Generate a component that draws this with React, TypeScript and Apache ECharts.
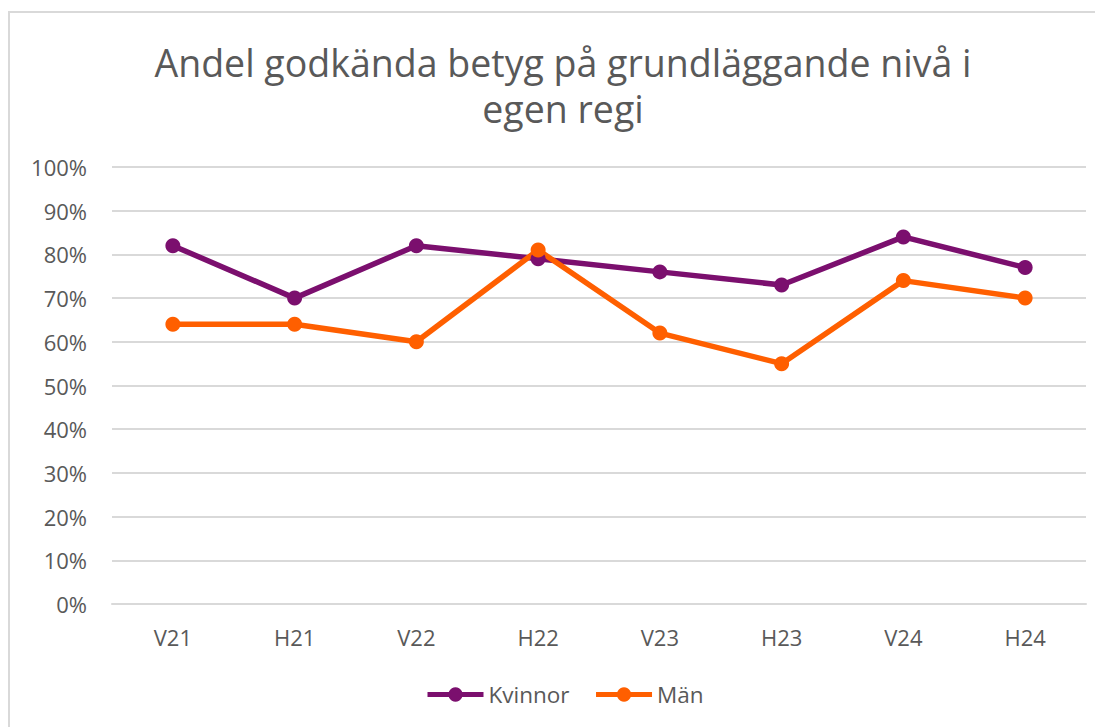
import React, { useEffect, useRef } from "react";
import * as echarts from "echarts";

const categories = ["V21", "H21", "V22", "H22", "V23", "H23", "V24", "H24"];
const kvinnor = [82, 70, 82, 79, 76, 73, 84, 77];
const man = [64, 64, 60, 81, 62, 55, 74, 70];
const seriesNames = ["Kvinnor", "Män"];
const titleText = "Andel godkända betyg på grundläggande nivå i\negen regi";

export default function App() {
  const ref = useRef<HTMLDivElement>(null);
  useEffect(() => {
    if (!ref.current) return;
    const chart = echarts.init(ref.current, null, { renderer: "svg" });
    const font = "'Open Sans', 'Noto Sans', sans-serif";
    chart.setOption({
      animation: false,
      backgroundColor: "#ffffff",
      textStyle: { fontFamily: font },
      graphic: [
        {
          type: "rect",
          shape: { x: 1, y: 4, width: 1200, height: 900 },
          style: { fill: "none", stroke: "#d9d9d9", lineWidth: 2 },
          silent: true,
        },
      ],
      title: {
        text: titleText,
        left: 550,
        top: 26,
        textAlign: "center",
        textStyle: {
          fontFamily: font,
          fontSize: 37.5,
          fontWeight: "normal",
          color: "#595959",
          lineHeight: 46,
        },
      },
      legend: {
        left: 412,
        top: 670,
        itemWidth: 56,
        itemHeight: 18,
        itemGap: 24,
        lineStyle: { width: 5 },
        textStyle: { fontFamily: font, fontSize: 22.5, color: "#595959" },
        data: seriesNames,
      },
      grid: { left: 104, right: 17, top: 159, bottom: 123, containLabel: false },
      xAxis: {
        type: "category",
        data: categories,
        boundaryGap: true,
        axisLine: { show: true, lineStyle: { color: "#d9d9d9", width: 2 } },
        axisTick: { show: false },
        axisLabel: { fontFamily: font, fontSize: 22, color: "#595959", margin: 22 },
      },
      yAxis: {
        type: "value",
        min: 0,
        max: 100,
        interval: 10,
        axisLine: { show: false },
        axisTick: { show: false },
        splitLine: { lineStyle: { color: "#d9d9d9", width: 2 } },
        axisLabel: {
          fontFamily: font,
          fontSize: 22,
          color: "#595959",
          margin: 25,
          formatter: "{value}%",
        },
      },
      series: [
        {
          name: seriesNames[0],
          type: "line",
          data: kvinnor,
          symbol: "circle",
          symbolSize: 15,
          lineStyle: { color: "#7B0F6E", width: 5.5 },
          itemStyle: { color: "#7B0F6E" },
        },
        {
          name: seriesNames[1],
          type: "line",
          data: man,
          symbol: "circle",
          symbolSize: 15,
          lineStyle: { color: "#FF5F00", width: 5.5 },
          itemStyle: { color: "#FF5F00" },
        },
      ],
    });
    return () => chart.dispose();
  }, []);
  return <div ref={ref} style={{ width: 1095, height: 719 }} />;
}
